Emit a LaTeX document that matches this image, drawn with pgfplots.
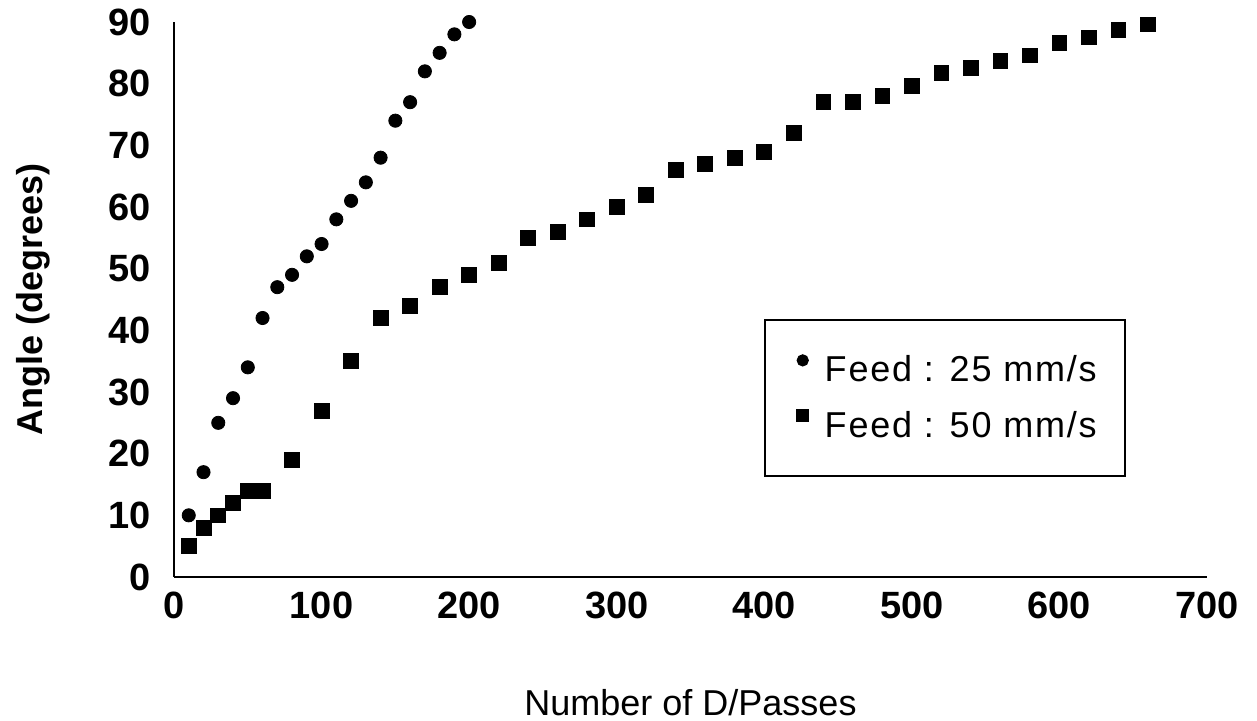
\documentclass[border=0pt]{standalone}
\usepackage{pgfplots}
\pgfplotsset{compat=1.18}
\usepackage{fontspec}
\setmainfont{Liberation Sans}

\begin{document}
\begin{tikzpicture}
\begin{axis}[
  scale only axis,
  width=516.5pt, height=277.5pt,
  xmin=0, xmax=700, ymin=0, ymax=90,
  clip=false,
  axis x line*=bottom, axis y line*=left,
  axis line style={-, line width=1.3pt, black},
  xtick={0,100,...,700}, ytick={0,10,...,90},
  major tick length=0pt,
  /pgf/number format/assume math mode=true,
  ticklabel style={font=\bfseries\fontsize{19}{19}\selectfont},
  yticklabel style={xshift=-8pt},
  xticklabel style={yshift=-4pt},
  xlabel={Number of D/Passes},
  ylabel={\bfseries Angle (degrees)},
  xlabel style={font=\fontsize{18}{21}\selectfont, at={(axis description cs:0.5,-0.226)}, anchor=center},
  ylabel style={font=\fontsize{18}{21}\selectfont, at={(axis description cs:-0.1365,0.5)}, anchor=center, rotate=0},
  legend style={at={(0.571,0.465)}, anchor=north west, draw=black, line width=0.9pt,
    inner xsep=12pt, inner ysep=16pt, row sep=9pt,
    font=\fontsize{18}{21}\selectfont\addfontfeature{LetterSpace=5}},
  legend cell align=left,
]
\addplot[only marks, mark=*, mark size=3.3pt, black,
  legend image code/.code={\path[draw=none,fill=none] (0pt,0pt) -- (16pt,0pt); \fill[black] (7pt,0.5em) circle (2.6pt);}]
coordinates {
(10,10)(20,17)(30,25)(40,29)(50,34)(60,42)(70,47)(80,49)(90,52)(100,54)
(110,58)(120,61)(130,64)(140,68)(150,74)(160,77)(170,82)(180,85)(190,88)(200,90)};
\addlegendentry{Feed : 25 mm/s}
\addplot[only marks, mark=square*, mark size=3.7pt, black,
  legend image code/.code={\path[draw=none,fill=none] (0pt,0pt) -- (16pt,0pt); \fill[black] (4.2pt,0.5em-2.8pt) rectangle ++(5.6pt,5.6pt);}]
coordinates {
(10,5)(20,8)(30,10)(40,12)(50,14)(60,14)(80,19)(100,27)(120,35)(140,42)
(160,44)(180,47)(200,49)(220,51)(240,55)(260,56)(280,58)(300,60)(320,62)
(340,66)(360,67)(380,68)(400,69)(420,72)(440,77)(460,77)(480,78)(500,79.6)
(520,81.7)(540,82.6)(560,83.7)(580,84.6)(600,86.6)(620,87.5)(640,88.7)(660,89.6)};
\addlegendentry{Feed : 50 mm/s}
\end{axis}
\pgfresetboundingbox
\path[use as bounding box] (-87pt,-72pt) rectangle (541.5pt,288.5pt);
\end{tikzpicture}
\end{document}
